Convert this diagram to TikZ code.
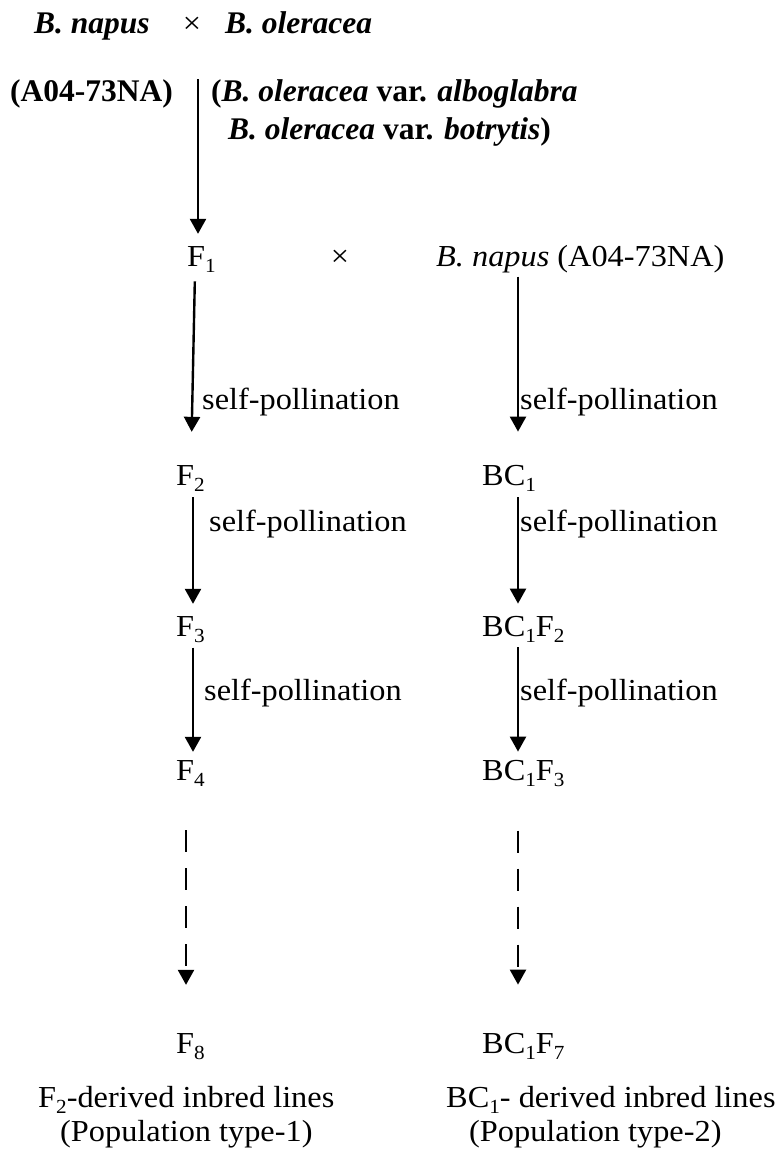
\documentclass[tikz,border=0pt]{standalone}
\usepackage{fontspec}
\setmainfont{Liberation Serif}[FakeStretch=1.06]
\newfontfamily\topfont{Liberation Serif}
\usetikzlibrary{arrows.meta}
\newcommand{\lsub}[1]{\raisebox{-0.2em}{\fontsize{20}{20}\selectfont #1}}
\begin{document}
\begin{tikzpicture}[x=1pt,y=-1pt,
  txt/.style={inner sep=0pt, anchor=base west, font=\fontsize{30.5}{34}\selectfont},
  btxt/.style={inner sep=0pt, anchor=base west, font=\topfont\fontsize{31.5}{36}\selectfont\bfseries},
  arr/.style={line width=2.4pt, -{Triangle[width=16pt,length=15pt]}},
  darr/.style={arr, dash pattern=on 22pt off 16pt}]
\useasboundingbox (0,0) rectangle (778,1156);
% top
\node[btxt] (bn) at (34,34) {\itshape B. napus};
\node[txt, anchor=base] (x1) at (192,34) {×};
\node[btxt] (bo) at (225,34) {\itshape B. oleracea};
\node[btxt] (acc) at (10,101) {(A04-73NA)};
\node[btxt] (var1) at (211,101) {(\textit{B. oleracea} var. \textit{alboglabra}};
\node[btxt] (var2) at (228,139) {\textit{B. oleracea} var. \textit{botrytis})};
\coordinate (top) at (198,79);
\coordinate (colA) at (195,0);
\coordinate (colB) at (191,0);
\coordinate (colL) at (193,0);
\coordinate (colR) at (518,0);
\coordinate (dL) at (186,0);
% rows
\node[txt] (F1) at (187,266) {F\lsub{1}};
\node[txt, anchor=base] (x2) at (340,266) {×};
\node[txt] (BN) at (436,266) {\textit{B. napus} (A04-73NA)};
\node[txt] (F2) at (176,485) {F\lsub{2}};
\node[txt] (BC1) at (482,485) {BC\lsub{1}};
\node[txt] (F3) at (176,636) {F\lsub{3}};
\node[txt] (BC1F2) at (482,636) {BC\lsub{1}F\lsub{2}};
\node[txt] (F4) at (176,780) {F\lsub{4}};
\node[txt] (BC1F3) at (482,780) {BC\lsub{1}F\lsub{3}};
\node[txt] (F8) at (176,1053) {F\lsub{8}};
\node[txt] (BC1F7) at (482,1053) {BC\lsub{1}F\lsub{7}};
% labels
\node[txt] (s1L) at (202,409) {self-pollination};
\node[txt] (s1R) at (520,409) {self-pollination};
\node[txt] (s2L) at (209,531) {self-pollination};
\node[txt] (s2R) at (520,531) {self-pollination};
\node[txt] (s3L) at (204,700) {self-pollination};
\node[txt] (s3R) at (520,700) {self-pollination};
% bottom
\node[txt] (d1) at (38,1107) {F\lsub{2}-derived inbred lines};
\node[txt] (p1) at (60,1141) {(Population type-1)};
\node[txt] (d2) at (446,1107) {BC\lsub{1}- derived inbred lines};
\node[txt] (p2) at (469,1141) {(Population type-2)};
% arrows
\draw[arr, shorten >=12pt] (top) -- (top |- F1.north);
\draw[arr, shorten <=9pt, shorten >=33pt] (F1.south -| colA) -- (F2.north -| colB);
\draw[arr, shorten <=4pt, shorten >=33pt] (BN.south -| colR) -- (BC1.north -| colR);
\draw[arr, shorten <=6pt, shorten >=12pt] (F2.south -| colL) -- (F3.north -| colL);
\draw[arr, shorten <=6pt, shorten >=12pt] (BC1.south -| colR) -- (BC1F2.north -| colR);
\draw[arr, shorten <=5pt, shorten >=8pt] (F3.south -| colL) -- (F4.north -| colL);
\draw[arr, shorten <=5pt, shorten >=8pt] (BC1F2.south -| colR) -- (BC1F3.north -| colR);
\draw[darr, shorten <=44pt, shorten >=48pt] (F4.south -| dL) -- (F8.north -| dL);
\draw[darr, shorten <=44pt, shorten >=48pt] (BC1F3.south -| colR) -- (BC1F7.north -| colR);
\end{tikzpicture}
\end{document}
